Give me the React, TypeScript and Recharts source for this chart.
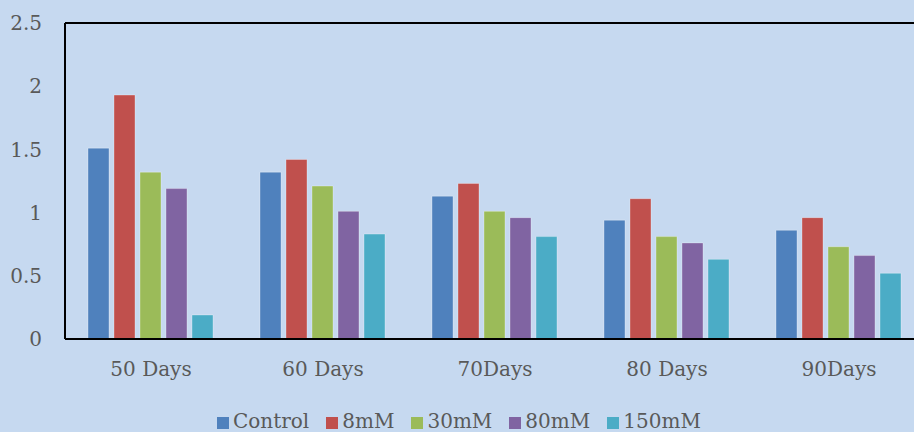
import React from 'react';
import { BarChart, Bar, XAxis, YAxis, ReferenceLine } from 'recharts';

const categories = ['50 Days', '60 Days', '70Days', '80 Days', '90Days'];
const control = [1.51, 1.32, 1.13, 0.94, 0.86];
const mM8 = [1.93, 1.42, 1.23, 1.11, 0.96];
const mM30 = [1.32, 1.21, 1.01, 0.81, 0.73];
const mM80 = [1.19, 1.01, 0.96, 0.76, 0.66];
const mM150 = [0.19, 0.83, 0.81, 0.63, 0.52];
const yTicks = [0, 0.5, 1, 1.5, 2, 2.5];

const series = [
  { key: 'control', name: 'Control', color: '#4f81bd', values: control },
  { key: 'm8', name: '8mM', color: '#c0504d', values: mM8 },
  { key: 'm30', name: '30mM', color: '#9bbb59', values: mM30 },
  { key: 'm80', name: '80mM', color: '#8064a2', values: mM80 },
  { key: 'm150', name: '150mM', color: '#4bacc6', values: mM150 },
];

const data = categories.map((c, i) => {
  const row: any = { name: c };
  series.forEach((s) => { row[s.key] = s.values[i]; });
  return row;
});

const bg = '#c6d9f0';
const textCol = '#595959';
const font = '"DejaVu Serif", serif';

export default function App() {
  return (
    <div style={{ position: 'fixed', left: 0, top: 0, width: 914, height: 432, overflow: 'hidden', background: bg }}>
      <BarChart
        width={926}
        height={432}
        data={data}
        margin={{ top: 23, right: 1, left: 0, bottom: 0 }}
        barCategoryGap={23}
        barGap={5}
      >
        <XAxis
          dataKey="name"
          height={93}
          tickLine={false}
          tickSize={0}
          tickMargin={23}
          axisLine={{ stroke: '#000', strokeWidth: 2 }}
          tick={{ fill: textCol, fontSize: 20, fontFamily: font }}
          interval={0}
        />
        <YAxis
          width={65}
          domain={[0, 2.5]}
          ticks={yTicks}
          tickLine={false}
          tickSize={0}
          tickMargin={23}
          axisLine={{ stroke: '#000', strokeWidth: 2 }}
          tick={{ fill: textCol, fontSize: 20, fontFamily: font }}
        />
        <ReferenceLine y={2.5} stroke="#000" strokeWidth={2} />
        {series.map((s) => (
          <Bar
            key={s.key}
            dataKey={s.key}
            name={s.name}
            fill={s.color}
            stroke="rgba(255,255,255,0.3)"
            strokeWidth={1}
            isAnimationActive={false}
          />
        ))}
      </BarChart>
      <div style={{ position: 'absolute', left: 217, top: 409, display: 'flex', gap: 17, fontFamily: font, fontSize: 20, color: textCol, lineHeight: '24px' }}>
        {series.map((s) => (
          <div key={s.key} style={{ display: 'flex', alignItems: 'center' }}>
            <span style={{ display: 'inline-block', width: 12, height: 12, background: s.color, marginRight: 4, marginTop: 4 }} />
            <span>{s.name}</span>
          </div>
        ))}
      </div>
    </div>
  );
}
